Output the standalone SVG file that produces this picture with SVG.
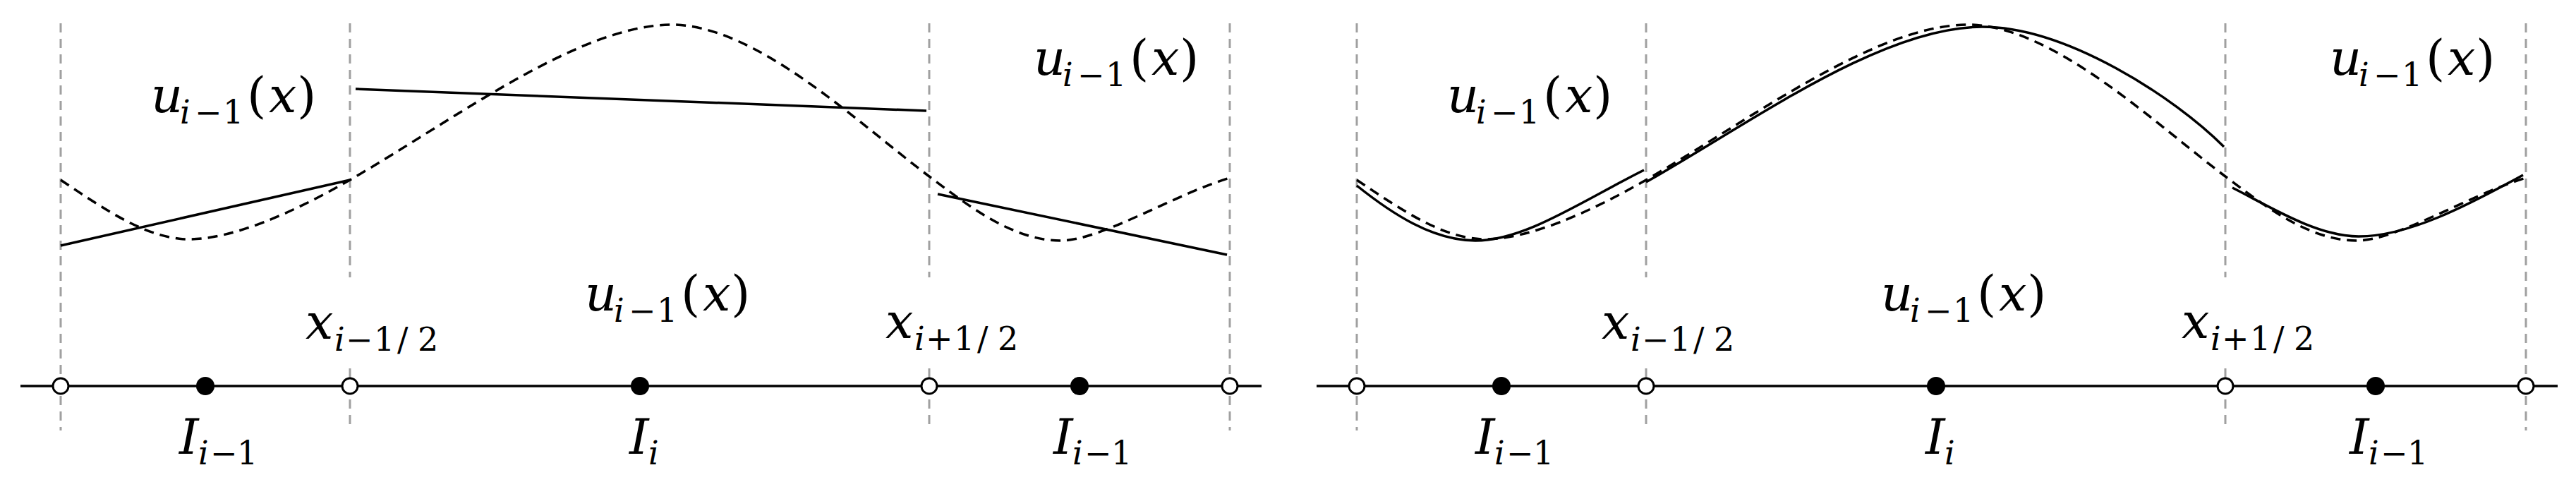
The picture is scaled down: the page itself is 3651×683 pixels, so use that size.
<svg xmlns="http://www.w3.org/2000/svg" width="3651" height="683" viewBox="0 0 3651 683">
<style>
.bg{fill:#fff}
.grid{stroke:#a0a0a0;stroke-width:3;stroke-dasharray:13 9;fill:none}
.axis{stroke:#000;stroke-width:3.5;fill:none}
.exact{stroke:#000;stroke-width:3.5;stroke-dasharray:14 9;fill:none}
.approx{stroke:#000;stroke-width:3.5;fill:none;stroke-linecap:butt}
.open{fill:#fff;stroke:#000;stroke-width:3}
.full{fill:#000}
.t{font-family:"DejaVu Serif","Liberation Serif",serif;font-size:70px;fill:#000}
.i{font-style:italic}
.s{font-size:46px}
</style>
<rect class="bg" x="0" y="0" width="3651" height="683"/>

<!-- LEFT PANEL: piecewise linear reconstruction -->
<g id="panel-left">
  <g id="left-gridlines">
    <line class="grid" x1="86" y1="33" x2="86" y2="610"/>
    <line class="grid" x1="496" y1="33" x2="496" y2="393"/>
    <line class="grid" x1="496" y1="522" x2="496" y2="610"/>
    <line class="grid" x1="1317" y1="33" x2="1317" y2="393"/>
    <line class="grid" x1="1317" y1="522" x2="1317" y2="610"/>
    <line class="grid" x1="1743" y1="33" x2="1743" y2="610"/>
  </g>
  <g id="left-connectors">
    <path id="left-exact" class="exact" d="M86,255 C146,295 208,339 268,339 C330,339 416,301 496,255 C646,168 822,35 952,35 C1072,35 1217,175 1317,250 C1367,287 1433,341 1503,341 C1560,341 1663,276 1743,252"/>
    <line id="left-lin-1" class="approx" x1="86" y1="348" x2="496" y2="255"/>
    <line id="left-lin-2" class="approx" x1="504" y1="126" x2="1313" y2="157"/>
    <line id="left-lin-3" class="approx" x1="1329" y1="275" x2="1739" y2="361"/>
    <line id="left-axis" class="axis" x1="29" y1="547" x2="1788" y2="547"/>
  </g>
  <g id="left-node-xa"><circle class="open" cx="86" cy="547" r="11"/></g>
  <g id="left-node-c1"><circle class="full" cx="291" cy="547" r="13"/></g>
  <g id="left-node-xb"><circle class="open" cx="496" cy="547" r="11"/></g>
  <g id="left-node-c2"><circle class="full" cx="907" cy="547" r="13"/></g>
  <g id="left-node-xc"><circle class="open" cx="1317" cy="547" r="11"/></g>
  <g id="left-node-c3"><circle class="full" cx="1530" cy="547" r="13"/></g>
  <g id="left-node-xd"><circle class="open" cx="1743" cy="547" r="11"/></g>
  <g id="left-labels">
    <text class="t"><tspan class="i" x="214" y="159">u</tspan><tspan class="s i" x="255" y="175">i</tspan><tspan class="s" x="276" y="175">−</tspan><tspan class="s" x="316" y="175">1</tspan><tspan x="350" y="159">(</tspan><tspan class="i" x="381" y="159">x</tspan><tspan x="421" y="159">)</tspan></text>
    <text class="t"><tspan class="i" x="829" y="440">u</tspan><tspan class="s i" x="870" y="456">i</tspan><tspan class="s" x="891" y="456">−</tspan><tspan class="s" x="931" y="456">1</tspan><tspan x="965" y="440">(</tspan><tspan class="i" x="996" y="440">x</tspan><tspan x="1036" y="440">)</tspan></text>
    <text class="t"><tspan class="i" x="1465" y="106">u</tspan><tspan class="s i" x="1506" y="122">i</tspan><tspan class="s" x="1527" y="122">−</tspan><tspan class="s" x="1567" y="122">1</tspan><tspan x="1601" y="106">(</tspan><tspan class="i" x="1632" y="106">x</tspan><tspan x="1672" y="106">)</tspan></text>
    <text class="t"><tspan class="i" x="433" y="480">x</tspan><tspan class="s i" x="474" y="497">i</tspan><tspan class="s" x="490" y="497">−</tspan><tspan class="s" x="530" y="497">1</tspan><tspan class="s" x="563" y="497">/</tspan><tspan class="s" x="592" y="497">2</tspan></text>
    <text class="t"><tspan class="i" x="1255" y="479">x</tspan><tspan class="s i" x="1296" y="496">i</tspan><tspan class="s" x="1312" y="496">+</tspan><tspan class="s" x="1352" y="496">1</tspan><tspan class="s" x="1385" y="496">/</tspan><tspan class="s" x="1414" y="496">2</tspan></text>
    <text class="t"><tspan class="i" x="254" y="643">I</tspan><tspan class="s i" x="281" y="658">i</tspan><tspan class="s" x="298" y="658">−</tspan><tspan class="s" x="336" y="658">1</tspan></text>
    <text class="t"><tspan class="i" x="892" y="643">I</tspan><tspan class="s i" x="919" y="658">i</tspan></text>
    <text class="t"><tspan class="i" x="1493" y="643">I</tspan><tspan class="s i" x="1520" y="658">i</tspan><tspan class="s" x="1537" y="658">−</tspan><tspan class="s" x="1575" y="658">1</tspan></text>
  </g>
</g>

<!-- RIGHT PANEL: smooth reconstruction -->
<g id="panel-right" transform="translate(1837,0)">
  <g id="right-gridlines">
    <line class="grid" x1="86" y1="33" x2="86" y2="610"/>
    <line class="grid" x1="496" y1="33" x2="496" y2="393"/>
    <line class="grid" x1="496" y1="522" x2="496" y2="610"/>
    <line class="grid" x1="1317" y1="33" x2="1317" y2="393"/>
    <line class="grid" x1="1317" y1="522" x2="1317" y2="610"/>
    <line class="grid" x1="1743" y1="33" x2="1743" y2="610"/>
  </g>
  <g id="right-connectors">
    <path id="right-exact" class="exact" d="M86,255 C146,295 208,339 268,339 C330,339 416,301 496,255 C646,168 822,35 952,35 C1072,35 1217,175 1317,250 C1367,287 1433,341 1503,341 C1560,341 1663,276 1743,252"/>
    <path id="right-poly-1" class="approx" d="M86,263 C136,303 194,341 254,341 C324,341 403,286 493,241"/>
    <path id="right-poly-2" class="approx" d="M496,258 C646,173 830,38 972,38 C1092,38 1245,138 1315,208"/>
    <path id="right-poly-3" class="approx" d="M1327,266 C1377,291 1446,335 1506,335 C1576,335 1659,292 1739,248"/>
    <line id="right-axis" class="axis" x1="29" y1="547" x2="1788" y2="547"/>
  </g>
  <g id="right-node-xa"><circle class="open" cx="86" cy="547" r="11"/></g>
  <g id="right-node-c1"><circle class="full" cx="291" cy="547" r="13"/></g>
  <g id="right-node-xb"><circle class="open" cx="496" cy="547" r="11"/></g>
  <g id="right-node-c2"><circle class="full" cx="907" cy="547" r="13"/></g>
  <g id="right-node-xc"><circle class="open" cx="1317" cy="547" r="11"/></g>
  <g id="right-node-c3"><circle class="full" cx="1530" cy="547" r="13"/></g>
  <g id="right-node-xd"><circle class="open" cx="1743" cy="547" r="11"/></g>
  <g id="right-labels">
    <text class="t"><tspan class="i" x="214" y="159">u</tspan><tspan class="s i" x="255" y="175">i</tspan><tspan class="s" x="276" y="175">−</tspan><tspan class="s" x="316" y="175">1</tspan><tspan x="350" y="159">(</tspan><tspan class="i" x="381" y="159">x</tspan><tspan x="421" y="159">)</tspan></text>
    <text class="t"><tspan class="i" x="829" y="440">u</tspan><tspan class="s i" x="870" y="456">i</tspan><tspan class="s" x="891" y="456">−</tspan><tspan class="s" x="931" y="456">1</tspan><tspan x="965" y="440">(</tspan><tspan class="i" x="996" y="440">x</tspan><tspan x="1036" y="440">)</tspan></text>
    <text class="t"><tspan class="i" x="1465" y="106">u</tspan><tspan class="s i" x="1506" y="122">i</tspan><tspan class="s" x="1527" y="122">−</tspan><tspan class="s" x="1567" y="122">1</tspan><tspan x="1601" y="106">(</tspan><tspan class="i" x="1632" y="106">x</tspan><tspan x="1672" y="106">)</tspan></text>
    <text class="t"><tspan class="i" x="433" y="480">x</tspan><tspan class="s i" x="474" y="497">i</tspan><tspan class="s" x="490" y="497">−</tspan><tspan class="s" x="530" y="497">1</tspan><tspan class="s" x="563" y="497">/</tspan><tspan class="s" x="592" y="497">2</tspan></text>
    <text class="t"><tspan class="i" x="1255" y="479">x</tspan><tspan class="s i" x="1296" y="496">i</tspan><tspan class="s" x="1312" y="496">+</tspan><tspan class="s" x="1352" y="496">1</tspan><tspan class="s" x="1385" y="496">/</tspan><tspan class="s" x="1414" y="496">2</tspan></text>
    <text class="t"><tspan class="i" x="254" y="643">I</tspan><tspan class="s i" x="281" y="658">i</tspan><tspan class="s" x="298" y="658">−</tspan><tspan class="s" x="336" y="658">1</tspan></text>
    <text class="t"><tspan class="i" x="892" y="643">I</tspan><tspan class="s i" x="919" y="658">i</tspan></text>
    <text class="t"><tspan class="i" x="1493" y="643">I</tspan><tspan class="s i" x="1520" y="658">i</tspan><tspan class="s" x="1537" y="658">−</tspan><tspan class="s" x="1575" y="658">1</tspan></text>
  </g>
</g>
</svg>
